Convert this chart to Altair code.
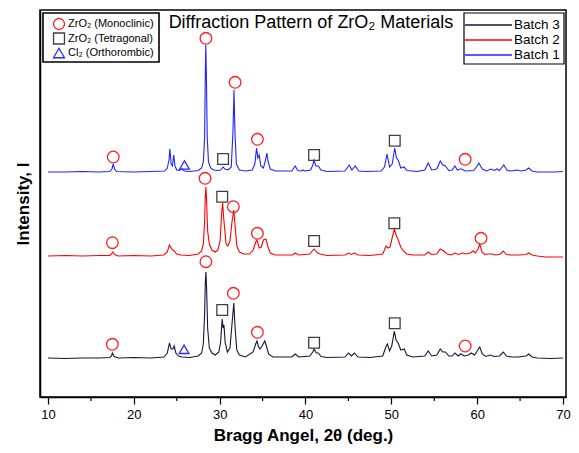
import altair as alt
import pandas as pd

# ---------------- data ----------------
batches = ["Batch 3", "Batch 2", "Batch 1"]
batch_colors = ["#16163a", "#ff0000", "#2222ff"]
batch_offsets = {"Batch 1": 225, "Batch 2": 141, "Batch 3": 39}

batch1_x = [10.0, 12, 14, 16, 17.2, 17.45, 17.6, 17.75, 18.0, 20, 22, 23.6, 23.9, 24.1, 24.2, 24.35, 24.5, 24.65, 24.8, 25.0, 25.3, 25.6, 25.9, 26.5, 27.5, 27.9, 28.1, 28.25, 28.33, 28.38, 28.45, 28.55, 28.7, 28.95, 29.3, 29.8, 30.1, 30.4, 30.6, 31.0, 31.35, 31.55, 31.67, 31.78, 31.95, 32.3, 33, 33.8, 34.1, 34.3, 34.45, 34.6, 34.8, 35.1, 35.35, 35.5, 35.65, 35.9, 36.5, 38.4, 38.8, 39.1, 39.5, 39.7, 39.9, 40.6, 40.85, 41.0, 41.2, 41.5, 41.8, 42.5, 44.6, 45.1, 45.4, 45.8, 46.2, 47, 48.8, 49.2, 49.5, 49.8, 50.1, 50.4, 50.6, 50.8, 51.1, 51.5, 51.8, 53, 53.9, 54.3, 54.7, 55.3, 55.7, 56.0, 56.3, 56.7, 57.1, 57.4, 57.7, 58.0, 58.2, 58.6, 59.6, 60.0, 60.2, 60.6, 61.1, 61.6, 62.0, 62.3, 62.6, 63.1, 63.5, 64.0, 64.6, 65.2, 65.7, 66.0, 66.4, 67, 69, 70]
batch1_h = [0, 0, 0.5, 0, 0.5, 3, 8, 3, 0.5, 0, 0.5, 1, 4, 12, 23, 8, 6, 17, 6, 2, 1.5, 3, 1, 0.5, 1.5, 4, 10, 35, 100, 127, 100, 35, 10, 4, 2, 1.5, 2, 5, 3, 2, 5, 40, 82, 40, 8, 2, 1, 2, 8, 24, 14, 17, 6, 4, 12, 19, 10, 3, 1, 1, 6, 1.5, 1, 2, 1, 2, 7, 12, 6, 6, 2, 0.5, 1, 7, 2, 6, 1, 0.5, 1, 5, 18, 5, 8, 24, 14, 12, 4, 5, 1.5, 0.5, 2, 9, 2, 3, 11, 7, 6, 1.5, 2, 6, 2, 3, 3, 1, 1.5, 6, 9, 3, 1, 3, 1.5, 3, 1.5, 7, 1.5, 1, 2, 1, 2, 4, 1, 0, 0, 0.5]

batch2_x = [10, 12, 14, 16, 17.2, 17.4, 17.55, 17.75, 18.2, 20, 22, 23.5, 23.9, 24.15, 24.4, 24.7, 25.0, 25.5, 26.5, 27.5, 27.9, 28.1, 28.25, 28.33, 28.4, 28.48, 28.6, 28.8, 29.1, 29.5, 29.8, 30.05, 30.25, 30.35, 30.5, 30.75, 30.95, 31.2, 31.45, 31.65, 31.8, 32.0, 32.3, 32.8, 33.5, 33.9, 34.2, 34.35, 34.6, 34.85, 35.1, 35.4, 35.6, 35.9, 36.5, 38.5, 38.8, 39.2, 40.5, 41.0, 41.4, 41.7, 42.5, 44.6, 45.0, 45.35, 45.7, 46.1, 47.5, 49.0, 49.4, 49.6, 49.85, 50.15, 50.35, 50.6, 50.8, 51.1, 51.4, 51.8, 52.5, 53.9, 54.3, 54.7, 55.3, 55.7, 56.1, 56.5, 57.0, 57.4, 57.8, 58.3, 58.7, 59.2, 59.55, 59.8, 60.1, 60.3, 60.55, 60.9, 61.3, 61.7, 62.2, 62.7, 63.05, 63.4, 64.0, 64.8, 65.7, 66.0, 66.4, 67.0, 68, 70]
batch2_h = [0, 0.5, 0, 0.5, 0.5, 2, 4, 1.5, 0, 0.5, 0, 1, 4, 11, 7, 5, 2, 1, 0.5, 2, 5, 12, 35, 60, 69, 55, 25, 12, 6, 4, 6, 15, 45, 53, 35, 12, 10, 15, 35, 46, 30, 10, 4, 2, 2, 6, 14, 16, 8, 9, 16, 17, 10, 3, 1, 1, 3, 1, 2, 7, 3, 2, 0.5, 1, 3, 1.5, 3, 1, 0.5, 2, 10, 8, 9, 20, 27, 20, 16, 9, 5, 2, 1, 1, 4, 1.5, 2, 7, 5, 2, 1, 3, 1.5, 3, 2, 3, 5, 3, 7, 12, 4, 1.5, 2, 2, 1, 2, 5, 1.5, 1, 1, 1.5, 3, 1, 0, -1, -1]

batch3_x = [10, 12, 14, 16, 17.2, 17.4, 17.5, 17.7, 18.2, 20, 22, 23.5, 23.9, 24.15, 24.35, 24.55, 24.7, 24.9, 25.2, 25.6, 26.5, 27.5, 27.9, 28.1, 28.25, 28.33, 28.4, 28.48, 28.6, 28.8, 29.1, 29.5, 29.9, 30.1, 30.3, 30.4, 30.5, 30.65, 30.9, 31.2, 31.45, 31.65, 31.8, 32.0, 32.3, 33, 33.9, 34.2, 34.35, 34.5, 34.7, 34.95, 35.25, 35.45, 35.7, 36.2, 38.4, 38.8, 39.2, 40.5, 40.85, 41.0, 41.25, 41.5, 41.8, 42.5, 44.6, 45.0, 45.35, 45.7, 46.1, 47.5, 49.0, 49.4, 49.55, 49.8, 50.05, 50.35, 50.55, 50.8, 51.1, 51.5, 51.8, 52.5, 53.9, 54.3, 54.7, 55.3, 55.7, 56.0, 56.3, 56.7, 57.1, 57.4, 57.8, 58.1, 58.5, 59.0, 59.3, 59.7, 60.0, 60.3, 60.6, 61.0, 61.5, 62.0, 62.6, 63.05, 63.4, 64.0, 64.8, 65.7, 66.0, 66.4, 67.0, 68.5, 70]
batch3_h = [0, -0.5, 0, 0, 0.5, 2, 5, 1.5, 0, 0.5, 0, 1, 5, 15, 9, 9, 12, 5, 2, 1, 0.5, 2, 5, 14, 45, 75, 86, 70, 30, 10, 5, 3, 6, 15, 39, 30, 33, 15, 6, 10, 35, 55, 30, 8, 3, 1, 6, 14, 17, 12, 9, 12, 17, 12, 4, 1, 1, 4, 1, 2, 6, 9, 5, 5, 1.5, 0.5, 1, 5, 2, 5, 1, 0.5, 2, 12, 14, 7, 12, 27, 18, 15, 8, 9, 3, 1, 2, 7, 2, 3, 9, 6, 6, 2, 2, 5, 2, 4, 2, 3, 5, 3, 7, 11, 4, 1.5, 3, 1.5, 2, 6, 2, 1, 1, 2, 4, 1, 0, -0.5, 0]

phases = ["ZrO\u2082 (Monoclinic)", "ZrO\u2082 (Tetragonal)", "Cl\u2082 (Orthorombic)"]
phase_shapes = ["circle", "square", "triangle-up"]
phase_colors = ["#ff2020", "#404040", "#2a2aff"]
phase_sizes = [135, 95, 110]

# marker positions (2θ, intensity) and phase index
marker_x = [17.6, 25.9, 28.4, 30.4, 31.8, 34.4, 41.0, 50.4, 58.6,
            17.5, 28.3, 30.3, 31.6, 34.4, 41.0, 50.35, 60.45,
            17.5, 25.85, 28.4, 30.3, 31.6, 34.4, 41.0, 50.4, 58.6]
marker_y = [240, 232, 358.7, 238, 314.7, 257.7, 242, 256.3, 237.7,
            154.3, 218.7, 200.3, 190.3, 163.7, 156, 173.7, 158.7,
            52.7, 47.7, 135.3, 87, 103.7, 64.7, 54.3, 73.7, 51]
marker_phase = [0, 2, 0, 1, 0, 0, 1, 1, 0,
                0, 0, 1, 0, 0, 1, 1, 0,
                0, 2, 0, 1, 0, 0, 1, 1, 0]

x_ticks = [10, 20, 30, 40, 50, 60, 70]
x_minor_ticks = [15, 25, 35, 45, 55, 65]
chart_title = "Diffraction Pattern of ZrO\u2082 Materials"

# ---------------- tables ----------------
rows = []
for name, xs, hs in [("Batch 1", batch1_x, batch1_h),
                     ("Batch 2", batch2_x, batch2_h),
                     ("Batch 3", batch3_x, batch3_h)]:
    for i, (x, h) in enumerate(zip(xs, hs)):
        rows.append({"batch": name, "angle": x, "intensity": batch_offsets[name] + h, "order": i})
lines_df = pd.DataFrame(rows)

markers_df = pd.DataFrame({
    "angle": marker_x,
    "intensity": marker_y,
    "phase": [phases[i] for i in marker_phase],
})
phase_df = pd.DataFrame({"phase": phases})
batch_df = pd.DataFrame({"batch": batches})

FONT = "Liberation Sans"
W, H = 526, 387
xscale = alt.Scale(domain=[9.07, 70.35], nice=False, zero=False)
yscale = alt.Scale(domain=[0, 387], nice=False, zero=False)
batch_color_scale = alt.Scale(domain=batches, range=batch_colors)
phase_shape_scale = alt.Scale(domain=phases, range=phase_shapes)
phase_color_scale = alt.Scale(domain=phases, range=phase_colors)

lines = alt.Chart(lines_df).mark_line(strokeWidth=1.1, clip=True).encode(
    x=alt.X("angle:Q", scale=xscale,
            axis=alt.Axis(title="Bragg Angel, 2\u03b8 (deg.)", values=x_ticks, format="d",
                          grid=False, tickSize=7, tickWidth=1.2, tickColor="black",
                          domainColor="black", domainWidth=1.5,
                          labelFont=FONT, labelFontSize=13, labelColor="black", labelPadding=4,
                          titleFont=FONT, titleFontSize=17, titleFontWeight="bold",
                          titleColor="black", titlePadding=6)),
    y=alt.Y("intensity:Q", scale=yscale,
            axis=alt.Axis(title="Intensity, I", labels=False, ticks=False, grid=False,
                          domainColor="black", domainWidth=1.5,
                          titleFont=FONT, titleFontSize=17, titleFontWeight="bold",
                          titleColor="black", titlePadding=8)),
    color=alt.Color("batch:N", scale=batch_color_scale, legend=None),
    detail="batch:N",
    order="order:Q",
)

markers = alt.Chart(markers_df).mark_point(filled=False, strokeWidth=1.3, opacity=1).encode(
    x=alt.X("angle:Q", scale=xscale),
    y=alt.Y("intensity:Q", scale=yscale),
    shape=alt.Shape("phase:N", scale=phase_shape_scale, legend=None),
    stroke=alt.Stroke("phase:N", scale=phase_color_scale, legend=None),
    size=alt.Size("phase:N", scale=alt.Scale(domain=phases, range=phase_sizes), legend=None),
)

minor = alt.Chart(pd.DataFrame({"angle": x_minor_ticks})).mark_rule(
    color="black", strokeWidth=1.2).encode(
    x=alt.X("angle:Q", scale=xscale),
    y=alt.value(H),
    y2=alt.value(H + 4),
)

title = alt.Chart(pd.DataFrame({"t": [chart_title]})).mark_text(
    font=FONT, fontSize=18, color="black", align="center", baseline="alphabetic").encode(
    x=alt.value(271),
    y=alt.value(18),
    text="t:N",
)

# ---- left legend (phases) ----
leg_phase_y = alt.Y("phase:N", scale=alt.Scale(type="point", domain=phases, range=[14, 43], padding=0),
                    axis=None)
leg1_box = alt.Chart(pd.DataFrame({"a": [0]})).mark_rect(
    fill="white", stroke="black", strokeWidth=1.6).encode(
    x=alt.value(3), x2=alt.value(119), y=alt.value(3), y2=alt.value(52))
leg1_sym = alt.Chart(phase_df).mark_point(filled=False, strokeWidth=1.3, opacity=1, size=120).encode(
    x=alt.value(19), y=leg_phase_y,
    shape=alt.Shape("phase:N", scale=phase_shape_scale, legend=None),
    stroke=alt.Stroke("phase:N", scale=phase_color_scale, legend=None),
)
leg1_txt = alt.Chart(phase_df).mark_text(
    font=FONT, fontSize=11, color="black", align="left", baseline="middle").encode(
    x=alt.value(28), y=leg_phase_y, text="phase:N")

# ---- right legend (batches) ----
leg_batch_y = alt.Y("batch:N", scale=alt.Scale(type="point", domain=batches, range=[15, 45], padding=0),
                    axis=None)
leg2_box = alt.Chart(pd.DataFrame({"a": [0]})).mark_rect(
    fill="white", stroke="black", strokeWidth=1.2).encode(
    x=alt.value(424), x2=alt.value(524), y=alt.value(3), y2=alt.value(54))
leg2_line = alt.Chart(batch_df).mark_rule(strokeWidth=1.3).encode(
    x=alt.value(425), x2=alt.value(472), y=leg_batch_y,
    color=alt.Color("batch:N", scale=batch_color_scale, legend=None),
)
leg2_txt = alt.Chart(batch_df).mark_text(
    font=FONT, fontSize=13.5, color="black", align="left", baseline="middle").encode(
    x=alt.value(474), y=leg_batch_y, text="batch:N")

data_layers = alt.layer(lines, markers, minor)
legend_left = alt.layer(leg1_box, leg1_sym, leg1_txt)
legend_right = alt.layer(leg2_box, leg2_line, leg2_txt)

chart = alt.layer(data_layers, title, legend_left, legend_right).resolve_scale(
    y="independent"
).properties(
    width=W, height=H,
    autosize=alt.AutoSizeParams(type="none"),
    padding={"left": 32, "top": 2, "right": 5, "bottom": 56},
).configure_view(stroke="black", strokeWidth=1.5)

chart.save("out.html", embed_options={"renderer": "svg", "actions": False})
